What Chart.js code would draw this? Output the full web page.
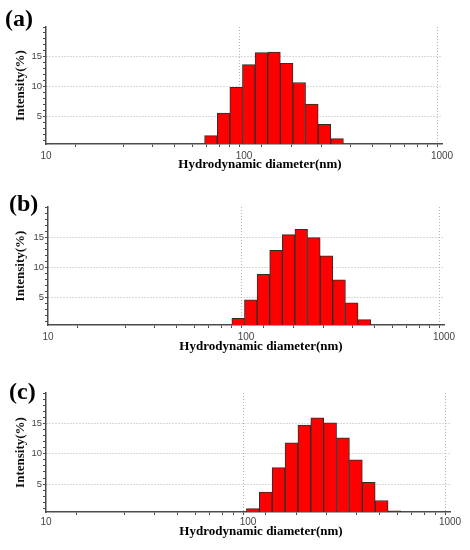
<!DOCTYPE html>
<html>
<head>
<meta charset="utf-8">
<script src="https://cdn.jsdelivr.net/npm/chart.js@4.4.0/dist/chart.umd.min.js"></script>
<style>
body { margin: 0; background: #fff; }
#wrap { position: relative; width: 470px; height: 550px; }
canvas { position: absolute; left: 0; }
</style>
</head>
<body>
<div id="wrap">
<canvas id="c1" width="470" height="183" style="top:0px"></canvas>
<canvas id="c2" width="470" height="183" style="top:180px"></canvas>
<canvas id="c3" width="470" height="185" style="top:365px"></canvas>
</div>
<script>
// size classes (nm) and intensity (%)
var sizesA = [68.06, 78.82, 91.28, 105.7, 122.4, 141.8, 164.2, 190.1, 220.2, 255.0, 295.3];
var intensityA = [1.8, 5.6, 9.9, 13.7, 15.7, 15.8, 13.9, 10.7, 7.1, 3.7, 1.3];

var sizesB = [91.28, 105.7, 122.4, 141.8, 164.2, 190.1, 220.2, 255.0, 295.3, 342.0, 396.1];
var intensityB = [1.5, 4.6, 8.8, 12.8, 15.4, 16.3, 14.9, 11.9, 7.9, 4.1, 1.3];

var sizesC = [105.7, 122.4, 141.8, 164.2, 190.1, 220.2, 255.0, 295.3, 342.0, 396.1, 458.7, 531.2];
var intensityC = [0.95, 3.7, 7.7, 11.8, 14.7, 15.9, 15.1, 12.6, 9.0, 5.3, 2.3, 0.6];

var xTickLabels = [10, 100, 1000];
var xGridValues = [100, 1000];
var yTickLabels = [5, 10, 15];
var yMinorTicks = [1, 2, 3, 4, 5, 6, 7, 8, 9, 10, 11, 12, 13, 14, 15, 16, 17, 18, 19, 20];

var panelLabels = ['(a)', '(b)', '(c)'];
var xTitle = 'Hydrodynamic diameter(nm)';
var yTitle = 'Intensity(%)';

var panelText = {
	id: 'panelText',
	afterDraw: function(chart, args, o) {
		var ctx = chart.ctx;
		ctx.save();
		ctx.fillStyle = '#000';
		ctx.textBaseline = 'middle';
		ctx.textAlign = 'left';
		ctx.font = 'bold 24px "Liberation Serif"';
		ctx.fillText(o.label, o.labelX, o.labelY);
		ctx.textAlign = 'center';
		ctx.font = 'bold 13px "Liberation Serif"';
		ctx.fillText(xTitle, o.titleX, o.titleY);
		ctx.restore();
	}
};

function hasValue(list, v) {
	for (var i = 0; i < list.length; i++) {
		if (Math.abs(list[i] - v) < 1e-6) return true;
	}
	return false;
}

function makePanel(id, label, sizes, values, box) {
	var pts = [];
	for (var i = 0; i < sizes.length; i++) {
		pts.push({x: sizes[i], y: values[i]});
	}
	var ctx = document.getElementById(id).getContext('2d');
	return new Chart(ctx, {
		type: 'bar',
		data: {
			datasets: [{
				data: pts,
				backgroundColor: '#ff0000',
				borderColor: '#2e2e2e',
				borderWidth: 1,
				barThickness: 'flex',
				categoryPercentage: 1,
				barPercentage: 1
			}]
		},
		plugins: [panelText],
		options: {
			responsive: false,
			animation: false,
			layout: {padding: {top: box.padTop, right: box.padRight, left: 0, bottom: 0}},
			plugins: {
				legend: {display: false},
				tooltip: {enabled: false},
				panelText: {label: label, labelX: box.labelX, labelY: box.labelY, titleX: box.titleX, titleY: box.titleY}
			},
			scales: {
				x: {
					type: 'logarithmic',
					min: 10,
					max: 1000,
					afterFit: function(s) { s.height = box.xHeight; },
					border: {color: '#4a4a4a', width: 1.5, dash: [1, 2]},
					grid: {
						color: function(c) { return (c.tick && hasValue(xGridValues, c.tick.value)) ? '#b4b4b4' : 'rgba(0,0,0,0)'; },
						lineWidth: 1,
						tickColor: '#4a4a4a',
						tickLength: 3
					},
					ticks: {
						autoSkip: false,
						maxRotation: 0,
						color: '#444',
						padding: box.xPad,
						font: {family: 'Liberation Sans', size: 10},
						callback: function(v) { return hasValue(xTickLabels, v) ? String(v) : ''; }
					}
				},
				y: {
					min: 0.4,
					max: 20,
					afterBuildTicks: function(s) {
						s.ticks = yMinorTicks.map(function(v) { return {value: v}; });
					},
					afterFit: function(s) { s.width = box.yWidth; },
					border: {color: '#4a4a4a', width: 1.5, dash: [1, 2]},
					grid: {
						color: function(c) { return (c.tick && hasValue(yTickLabels, c.tick.value)) ? '#b4b4b4' : 'rgba(0,0,0,0)'; },
						lineWidth: 1,
						tickColor: '#4a4a4a',
						tickLength: 3
					},
					ticks: {
						autoSkip: false,
						color: '#444',
						padding: 1,
						font: {family: 'Liberation Sans', size: 9.5},
						callback: function(v) { return hasValue(yTickLabels, v) ? String(v) : ''; }
					},
					title: {
						display: true,
						text: yTitle,
						color: '#111',
						padding: {top: 13, bottom: 0},
						font: {family: 'Liberation Serif', size: 13, weight: 'bold'}
					}
				}
			}
		}
	});
}

makePanel('c1', panelLabels[0], sizesA, intensityA,
	{yWidth: 46, xHeight: 39, padTop: 27, padRight: 28, xPad: 3, labelX: 5, labelY: 20, titleX: 260, titleY: 165});
makePanel('c2', panelLabels[1], sizesB, intensityB,
	{yWidth: 48, xHeight: 38, padTop: 27, padRight: 26, xPad: 3, labelX: 9, labelY: 25, titleX: 261, titleY: 167});
makePanel('c3', panelLabels[2], sizesC, intensityC,
	{yWidth: 46, xHeight: 38, padTop: 28, padRight: 20, xPad: 1, labelX: 9, labelY: 28, titleX: 261, titleY: 167});
</script>
</body>
</html>
